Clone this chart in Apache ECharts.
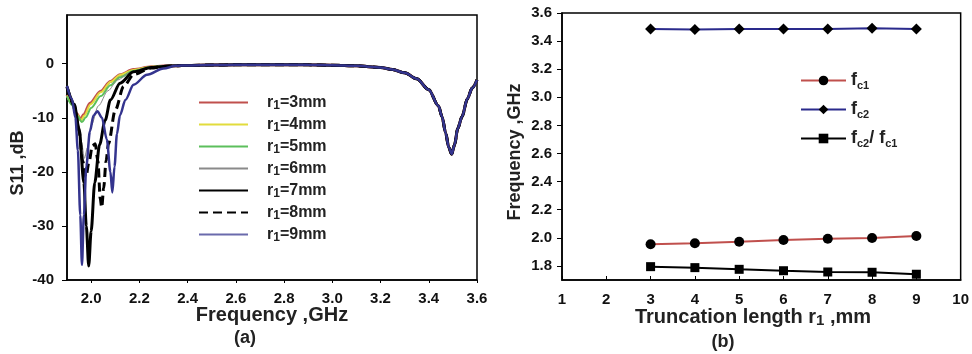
<!DOCTYPE html>
<html>
<head>
<meta charset="utf-8">
<script src="https://cdn.jsdelivr.net/npm/echarts@6/dist/echarts.min.js"></script>
<style>
html,body{margin:0;padding:0;background:#fff;}
#c{width:972px;height:354px;}
</style>
</head>
<body>
<div id="c"></div>
<script>
// ---------- Panel (a): S11 vs frequency ----------
var legendA = ['r1=3mm','r1=4mm','r1=5mm','r1=6mm','r1=7mm','r1=8mm','r1=9mm'];
// low band (first resonance) per curve: [GHz, dB]
var r3 = [[1.9,-5.8],[1.92,-7.3],[1.94,-9.2],[1.955,-10.3],[1.97,-9.4],[1.995,-7.3],[2.04,-5.1],[2.08,-3.3],[2.12,-2.05],[2.175,-1.1],[2.25,-0.55],[2.3,-0.45]];
var r4 = [[1.9,-5.9],[1.92,-7.4],[1.94,-9.3],[1.958,-10.5],[1.972,-9.6],[1.998,-7.5],[2.04,-5.3],[2.08,-3.4],[2.12,-2.1],[2.175,-1.15],[2.25,-0.55],[2.3,-0.45]];
var r5 = [[1.9,-6.0],[1.92,-7.6],[1.94,-9.5],[1.962,-10.8],[1.978,-9.9],[2.0,-8.2],[2.04,-6.0],[2.08,-4.0],[2.12,-2.5],[2.175,-1.35],[2.25,-0.6],[2.3,-0.45]];
var r6 = [[1.9,-4.6],[1.92,-6.5],[1.94,-9.5],[1.96,-14.5],[1.972,-17.5],[1.985,-15.5],[2.0,-11.5],[2.03,-7.8],[2.07,-5.0],[2.11,-3.0],[2.16,-1.7],[2.22,-0.9],[2.3,-0.5]];
var r7 = [[1.9,-4.3],[1.93,-7.5],[1.95,-12],[1.97,-22],[1.98,-30],[1.99,-37.4],[2.0,-31],[2.015,-22],[2.035,-15],[2.058,-10.5],[2.08,-6.7],[2.12,-3.6],[2.176,-1.5],[2.25,-0.7],[2.3,-0.5]];
var r8 = [[1.9,-4.3],[1.93,-7.8],[1.95,-12.5],[1.965,-18],[1.978,-21],[1.992,-18],[2.005,-15.2],[2.017,-14.8],[2.028,-18],[2.038,-25],[2.044,-26.6],[2.052,-23],[2.062,-18],[2.072,-14.8],[2.1,-8.6],[2.135,-4.2],[2.176,-2.0],[2.25,-0.8],[2.3,-0.5]];
var r9 = [[1.9,-4.1],[1.92,-6.5],[1.935,-10],[1.945,-16],[1.955,-28],[1.962,-37.2],[1.97,-28],[1.98,-19],[1.995,-12.5],[2.01,-9.6],[2.026,-8.8],[2.045,-10],[2.065,-14],[2.08,-20],[2.088,-23.8],[2.097,-19],[2.107,-13],[2.12,-9.5],[2.142,-6.7],[2.176,-3.9],[2.232,-2.05],[2.3,-0.9]];
// common part (all curves coincide): second resonance
var tailF = [2.35,2.4,2.5,2.6,2.7,2.8,2.9,3.0,3.1,3.2,3.25,3.3,3.35,3.4,3.44,3.455,3.47,3.483,3.495,3.507,3.52,3.538,3.56,3.58,3.6];
var tailS = [-0.4,-0.32,-0.25,-0.2,-0.2,-0.2,-0.22,-0.28,-0.4,-0.7,-1.1,-1.7,-2.8,-4.8,-7.8,-9.8,-12.8,-15.5,-16.7,-15,-12,-9.8,-6.5,-4.5,-3.0];
var xTicksA = [2.0,2.2,2.4,2.6,2.8,3.0,3.2,3.4,3.6];
var yTicksA = [-40,-30,-20,-10,0];

// ---------- Panel (b): frequency vs truncation length ----------
var truncLen = [3,4,5,6,7,8,9];
var fc1 = [1.954,1.961,1.972,1.985,1.994,1.999,2.013];
var fc2 = [3.486,3.482,3.487,3.487,3.487,3.491,3.487];
var ratio = [1.795,1.788,1.776,1.766,1.757,1.755,1.741];
var legendB = ['fc1','fc2','fc2/fc1'];
var yTicksB = [1.8,2.0,2.2,2.4,2.6,2.8,3.0,3.2,3.4,3.6];

function withTail(low){
  var out = low.slice();
  for (var i=0;i<tailF.length;i++) out.push([tailF[i], tailS[i]]);
  return out;
}
function pairs(xs, ys){ return xs.map(function(x,i){return [x, ys[i]];}); }

var FONT = '"Liberation Sans", Arial, sans-serif';
var lblStyle = {color:'#111', fontWeight:'bold', fontSize:15, fontFamily:FONT};

var colorsA = ['#c0504d','#e2dc3c','#5cbf5c','#8a8a8a','#000000','#000000','#34348e'];
var widthsA = [3,2,2,1,3,3,2.5];
var typesA = ['solid','solid','solid','solid','solid',[9,5],'solid'];
var dataA = [r3,r4,r5,r6,r7,r8,r9];

var series = [];
for (var k=0;k<7;k++){
  series.push({
    name: legendA[k], type:'line', xAxisIndex:0, yAxisIndex:0,
    data: withTail(dataA[k]), symbol:'none', smooth:0.3, smoothMonotone:'x',
    lineStyle:{color:colorsA[k], width:widthsA[k], type:typesA[k]},
    itemStyle:{color: colorsA[k]},
    z: 2+k, animation:false
  });
}
series.push({name:'fc1', type:'line', xAxisIndex:1, yAxisIndex:1, data:pairs(truncLen, fc1),
  symbol:'circle', symbolSize:10, lineStyle:{color:'#c0504d', width:2}, itemStyle:{color:'#000'}, animation:false});
series.push({name:'fc2', type:'line', xAxisIndex:1, yAxisIndex:1, data:pairs(truncLen, fc2),
  symbol:'diamond', symbolSize:11, lineStyle:{color:'#2a2a8c', width:2}, itemStyle:{color:'#000'}, animation:false});
series.push({name:'fc2/fc1', type:'line', xAxisIndex:1, yAxisIndex:1, data:pairs(truncLen, ratio),
  symbol:'rect', symbolSize:9, lineStyle:{color:'#000', width:2}, itemStyle:{color:'#000'}, animation:false});

var axisLineStyle = {show:true, onZero:false, lineStyle:{color:'#000', width:1.5}};

var legendAData = legendA.map(function(n, i){
  return i === 6 ? {name:n, lineStyle:{color:'#6a6aac'}} : {name:n};
});

var option = {
  backgroundColor:'#fff',
  animation:false,
  grid:[
    {left:67, top:15, width:410, height:265, show:true, borderColor:'#000', borderWidth:1.5, backgroundColor:'transparent'},
    {left:562, top:13, width:402, height:267, show:true, borderColor:'#000', borderWidth:1.5, backgroundColor:'transparent'}
  ],
  xAxis:[
    {type:'value', gridIndex:0, min:1.9, max:3.6,
     axisLine:axisLineStyle, splitLine:{show:false},
     axisTick:{show:true, length:3, customValues:xTicksA, lineStyle:{color:'#000'}},
     axisLabel:Object.assign({margin:11, customValues:xTicksA, formatter:function(v){return v.toFixed(1);}}, lblStyle)},
    {type:'value', gridIndex:1, min:1, max:10, interval:1,
     axisLine:axisLineStyle, splitLine:{show:false},
     axisTick:{show:true, inside:true, length:4, lineStyle:{color:'#000'}},
     axisLabel:Object.assign({margin:12}, lblStyle)}
  ],
  yAxis:[
    {type:'value', gridIndex:0, min:-40, max:9,
     axisLine:axisLineStyle, splitLine:{show:false},
     axisTick:{show:true, length:5, customValues:yTicksA, lineStyle:{color:'#000'}},
     axisLabel:Object.assign({margin:13, customValues:yTicksA}, lblStyle)},
    {type:'value', gridIndex:1, min:1.7, max:3.6,
     axisLine:axisLineStyle, splitLine:{show:false},
     axisTick:{show:true, length:5, customValues:yTicksB, lineStyle:{color:'#000'}},
     axisLabel:Object.assign({margin:10, customValues:yTicksB, formatter:function(v){return v.toFixed(1);}}, lblStyle)}
  ],
  legend:[
    {data:legendAData, orient:'vertical', left:193, top:88, itemWidth:49, itemHeight:12, itemGap:3,
     itemStyle:{opacity:0},
     formatter:function(n){ return '{g|}{a|r}{s|1}{a|' + n.slice(2) + '}'; },
     textStyle:{rich:{
       g:{width:14},
       a:{fontSize:16, fontWeight:'bold', color:'#222', fontFamily:FONT, lineHeight:18},
       s:{fontSize:12, fontWeight:'bold', color:'#222', fontFamily:FONT, lineHeight:18, padding:[7,0,0,0]}
     }}},
    {data:legendB, orient:'vertical', left:795, top:65, itemWidth:45, itemHeight:12, itemGap:8,
     formatter:function(n){
       if (n==='fc1') return '{a|f}{s|c1}';
       if (n==='fc2') return '{a|f}{s|c2}';
       return '{a|f}{s|c2}{a|/ f}{s|c1}';
     },
     textStyle:{rich:{
       a:{fontSize:18, fontWeight:'bold', color:'#222', fontFamily:FONT, lineHeight:22},
       s:{fontSize:11, fontWeight:'bold', color:'#222', fontFamily:FONT, lineHeight:22, padding:[10,0,0,0]}
     }}}
  ],
  graphic:[
    {type:'text', x:272, y:315, style:{text:'Frequency ,GHz', font:'bold 20px '+FONT, fill:'#222', align:'center', verticalAlign:'middle'}},
    {type:'text', x:245, y:338, style:{text:'(a)', font:'bold 18px '+FONT, fill:'#222', align:'center', verticalAlign:'middle'}},
    {type:'text', x:18, y:163, rotation:Math.PI/2, style:{text:'S11 ,dB', font:'bold 18px '+FONT, fill:'#222', align:'center', verticalAlign:'middle'}},
    {type:'text', x:753, y:317, style:{
      text:'{a|Truncation length r}{s|1}{a| ,mm}', align:'center', verticalAlign:'middle',
      rich:{a:{font:'bold 20px '+FONT, fill:'#222', lineHeight:24},
            s:{font:'bold 15px '+FONT, fill:'#222', lineHeight:24, padding:[8,0,0,0]}}}},
    {type:'text', x:723, y:342, style:{text:'(b)', font:'bold 18px '+FONT, fill:'#222', align:'center', verticalAlign:'middle'}},
    {type:'text', x:515, y:152, rotation:Math.PI/2, style:{text:'Frequency ,GHz', font:'bold 18px '+FONT, fill:'#222', align:'center', verticalAlign:'middle'}}
  ],
  series: series
};
var chart = echarts.init(document.getElementById('c'), null, {renderer:'canvas'});
chart.setOption(option);
</script>
</body>
</html>
